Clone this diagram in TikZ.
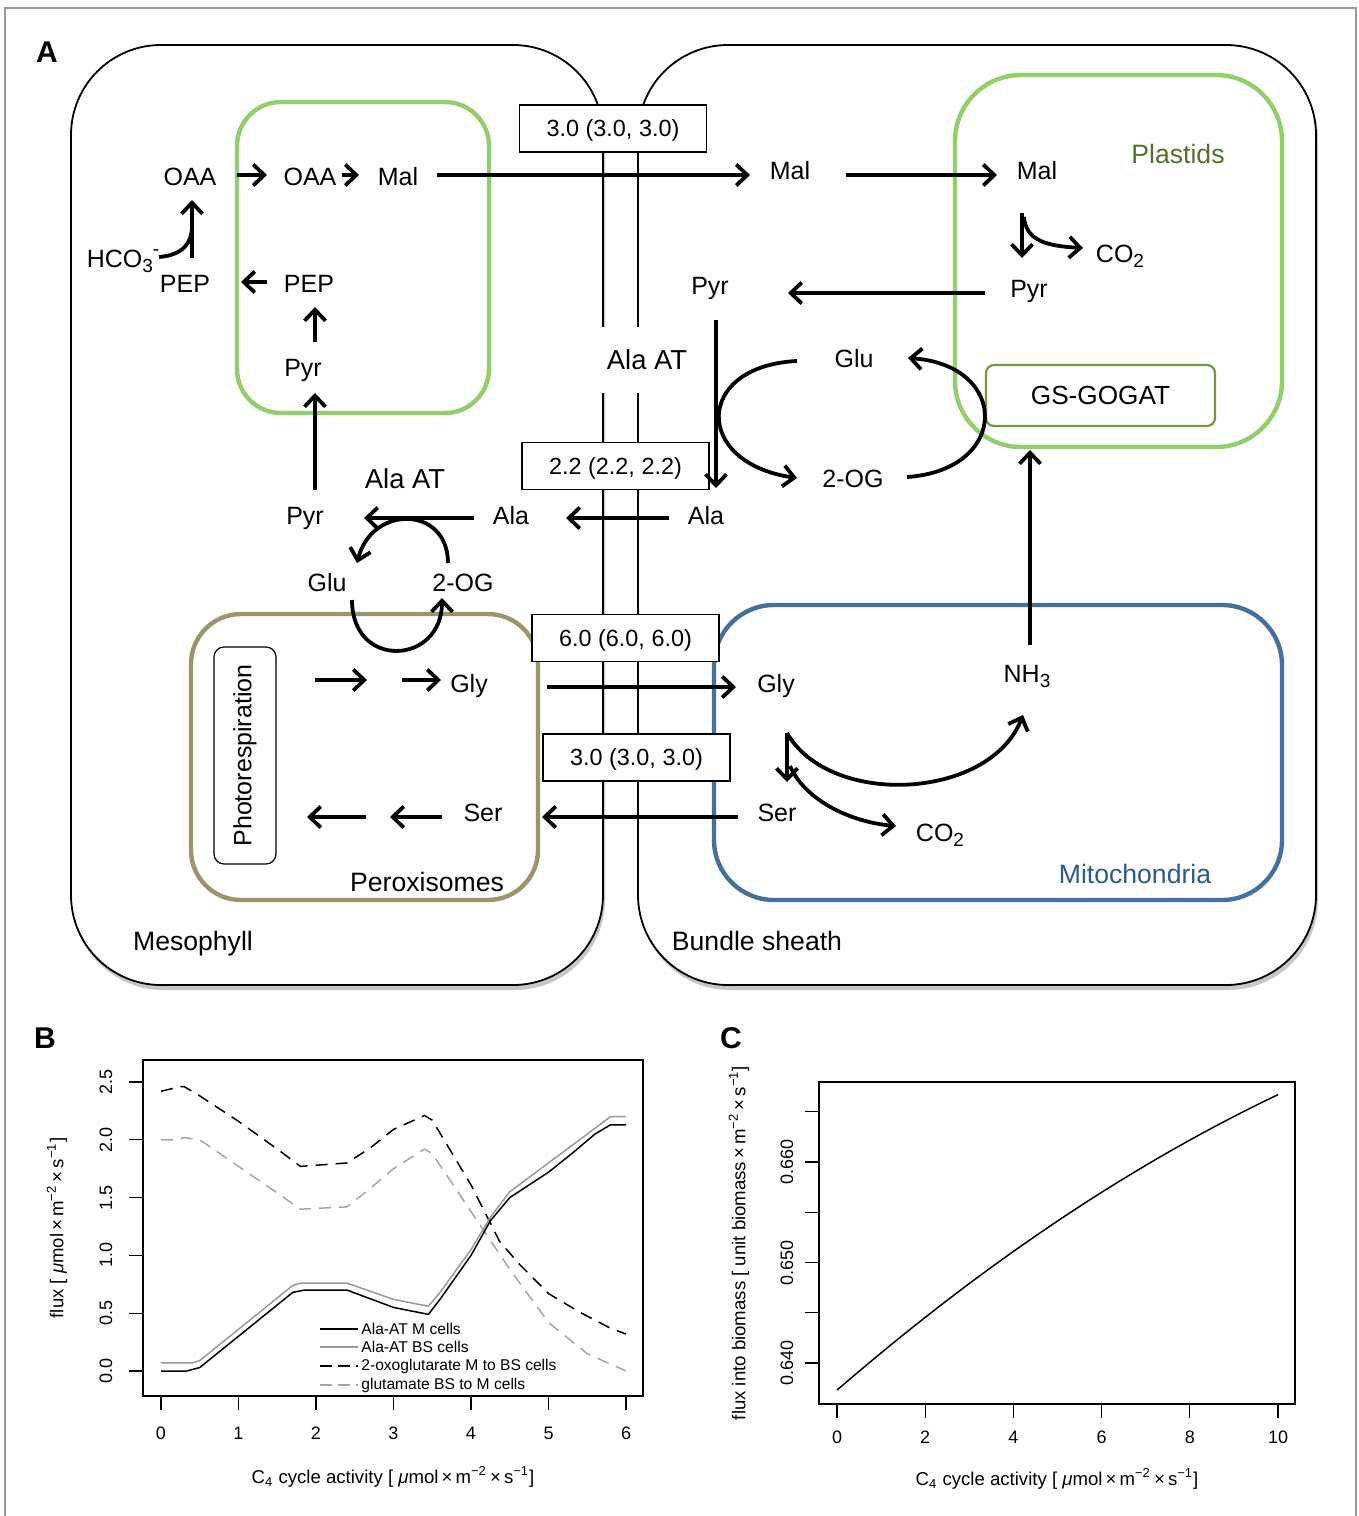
\documentclass[tikz,border=0pt]{standalone}
\usepackage{fontspec}
\setmainfont{Liberation Sans}
\usetikzlibrary{arrows.meta,calc,shadows}
\definecolor{plastid}{RGB}{146,206,106}
\definecolor{gsgogat}{RGB}{119,150,64}
\definecolor{plasttext}{RGB}{84,112,46}
\definecolor{perox}{RGB}{156,149,108}
\definecolor{mito}{RGB}{69,112,156}
\definecolor{mitotext}{RGB}{45,90,140}
\newcommand\mysub[1]{\raisebox{-0.45ex}{\fontsize{9.5}{9.5}\selectfont #1}}
\newcommand\mysup[1]{\raisebox{0.9ex}{\fontsize{9.5}{9.5}\selectfont #1}}
\begin{document}
\begin{tikzpicture}[x=0.5pt,y=-0.5pt,
  cellbox/.style={draw=black, line width=0.9pt, rounded corners=45pt, fill=white,
    drop shadow={shadow xshift=1pt, shadow yshift=-2.5pt, fill=black, opacity=0.22}},
  orgbox/.style={line width=2.2pt},
  met/.style={inner sep=0pt, font=\fontsize{12.5}{15}\selectfont, text height=9pt, text depth=0pt},
  comp/.style={inner sep=0pt, font=\fontsize{13.3}{16}\selectfont, text height=9.5pt, text depth=0pt},
  enz/.style={inner sep=0pt, font=\fontsize{13.7}{16}\selectfont, text height=9.8pt, text depth=0pt},
  fluxbox/.style={draw=black, line width=0.6pt, fill=white, inner sep=0pt, font=\fontsize{11.7}{14}\selectfont, text height=8.4pt, text depth=0pt, minimum width=93.5pt, minimum height=23.5pt},
  arr/.style={line width=1.9pt, -{Straight Barb[length=5.5pt,width=10.5pt]}},
  plainline/.style={line width=1.9pt},
  panel/.style={font=\fontsize{15}{15}\selectfont\bfseries, inner sep=0pt},
  tick/.style={font=\fontsize{9}{10}\selectfont, inner sep=0pt},
  axlab/.style={font=\fontsize{9.3}{11}\selectfont, inner sep=0pt},
  leg/.style={font=\fontsize{7.8}{9}\selectfont, inner sep=0pt, anchor=west},
  curve/.style={line width=0.75pt, line join=round},
  axline/.style={line width=0.6pt},
]
\useasboundingbox (0,0) rectangle (1359,1516);
% outer frame
\draw[black!40, line width=0.8pt] (5,1516) -- (5,8) -- (1356,8) -- (1356,1516);

% ===== Panel A =====
\node[panel] (lA) at (47,52) {A};
\draw[cellbox] (71,45) rectangle (603,985);
\draw[cellbox] (638,45) rectangle (1316,985);

\draw[orgbox, draw=plastid, rounded corners=22pt] (237,102) rectangle (489,413);
\draw[orgbox, draw=plastid, rounded corners=33pt] (955,75) rectangle (1282,447);
\draw[orgbox, draw=perox, rounded corners=25pt] (191,614) rectangle (538,900);
\draw[orgbox, draw=mito, rounded corners=30pt] (714,605) rectangle (1282,900);

\node[draw=gsgogat, line width=1.1pt, rounded corners=4pt, fill=white, minimum width=114.5pt, minimum height=30.5pt, inner sep=0pt, font=\fontsize{13.1}{15}\selectfont] (gs) at (1100.5,395.5) {GS-GOGAT};
\node[draw, line width=0.6pt, rounded corners=5pt, rotate=90, minimum width=108.5pt, minimum height=31pt, inner sep=0pt, font=\fontsize{12.5}{14}\selectfont] (photo) at (245,755.5) {Photorespiration};

% compartment labels
\node[comp, text=plasttext] (plastids) at (1178,154) {Plastids};
\node[comp] (peroxl) at (427,882) {Peroxisomes};
\node[comp, text=mitotext] (mitol) at (1135,874) {Mitochondria};
\node[comp] (mesol) at (193,941) {Mesophyll};
\node[comp] (bsl) at (757,941) {Bundle sheath};

% flux boxes
\node[fluxbox] (f1) at (613,128.5) {3.0 (3.0, 3.0)};
\node[fluxbox] (f2) at (615.5,466) {2.2 (2.2, 2.2)};
\node[fluxbox] (f3) at (625.5,638) {6.0 (6.0, 6.0)};
\node[fluxbox] (f4) at (636.5,757.5) {3.0 (3.0, 3.0)};

% enzymes
\node[enz] (alaat1) at (405,479) {Ala AT};
\node[enz, fill=white, inner xsep=3pt, minimum height=33pt] (alaat2) at (647,360) {Ala AT};

% metabolites (mesophyll)
\node[met] (oaa1) at (190,176) {OAA};
\node[met] (oaa2) at (310,176) {OAA};
\node[met] (mal1) at (398,176) {Mal};
\node[met] (hco3) at (123,258) {HCO\mysub{3}\mysup{-}};
\node[met] (pep1) at (185,283) {PEP};
\node[met] (pep2) at (309,283) {PEP};
\node[met] (pyr1) at (303,367) {Pyr};
\node[met] (pyr1b) at (305,515) {Pyr};
\node[met] (ala1) at (511,515) {Ala};
\node[met] (glu1) at (327,582) {Glu};
\node[met] (og1) at (463,582) {2-OG};
\node[met] (gly1) at (469,683) {Gly};
\node[met] (ser1) at (483,812) {Ser};
% metabolites (bundle sheath)
\node[met] (mal2) at (790,170) {Mal};
\node[met] (mal3) at (1037,170) {Mal};
\node[met] (co2a) at (1120,253) {CO\mysub{2}};
\node[met] (pyr2) at (710,285) {Pyr};
\node[met] (pyr3) at (1029,288) {Pyr};
\node[met] (glu2) at (854,358) {Glu};
\node[met] (og2) at (853,478) {2-OG};
\node[met] (ala2) at (706,515) {Ala};
\node[met] (gly2) at (776,683) {Gly};
\node[met] (ser2) at (777,812) {Ser};
\node[met] (nh3) at (1027,673) {NH\mysub{3}};
\node[met] (co2b) at (940,832) {CO\mysub{2}};

% ---- arrows ----
\draw[arr] ($(oaa1)+(47,-1)$) -- ($(oaa2)+(-43,-1)$);
\draw[arr] ($(oaa2)+(32,-1)$) -- ($(mal1)+(-39,-1)$);
\draw[arr] ($(mal1)+(39,-1)$) -- ($(mal2)+(-40,5)$);
\draw[arr] ($(mal2)+(56,5)$) -- ($(mal3)+(-40,5)$);
\draw[arr] ($(mal3)+(-15,43)$) -- ($(pyr3)+(-7,-30)$);
\draw[arr] ($(mal3)+(-13,47)$) .. controls ($(mal3)+(-11,70)$) and ($(mal3)+(8,76)$) .. ($(co2a)+(-37,-5)$);
\draw[arr] ($(pyr3)+(-44,5)$) -- ($(pyr2)+(78,8)$);
\draw[arr] ($(pyr2)+(6,35)$) -- ($(ala2)+(10,-27)$);
\draw[arr] ($(glu2)+(-57,3)$) .. controls ($(glu2)+(-160,8)$) and ($(og2)+(-160,-15)$) .. ($(og2)+(-56,0)$);
\draw[arr] ($(og2)+(54,-1)$) .. controls ($(og2)+(157,-8)$) and ($(glu2)+(156,7)$) .. ($(glu2)+(54,0)$);
\draw[arr] ($(ala2)+(-37,3)$) -- ($(ala1)+(55,3)$);
\draw[arr] ($(ala1)+(-37,3)$) -- ($(pyr1b)+(59,3)$);
\draw[arr] ($(og1)+(-15,-19)$) .. controls ($(og1)+(-15,-76)$) and ($(glu1)+(45,-78)$) .. ($(glu1)+(30,-19)$);
\draw[arr] ($(glu1)+(25,18)$) .. controls ($(glu1)+(25,88)$) and ($(og1)+(-21,83)$) .. ($(og1)+(-21,16)$);
\draw[arr] ($(pyr1b)+(10,-25)$) -- ($(pyr1)+(12,26)$);
\draw[arr] ($(pyr1)+(12,-25)$) -- ($(pep2)+(6,24)$);
\draw[arr] ($(pep2)+(-42,-1)$) -- ($(pep1)+(56,-1)$);
\draw[arr] ($(pep1)+(7,-25)$) -- ($(oaa1)+(2,24)$);
\draw[plainline] ($(hco3)+(36,-1)$) .. controls ($(hco3)+(60,-3)$) and ($(pep1)+(7,-40)$) .. ($(pep1)+(7,-57)$);
% peroxisome
\draw[arr] ($(photo)+(70,-75.5)$) -- ($(gly1)+(-102,-3)$);
\draw[arr] ($(gly1)+(-67,-3)$) -- ($(gly1)+(-28,-3)$);
\draw[arr] ($(ser1)+(-41,5)$) -- ($(ser1)+(-93,5)$);
\draw[arr] ($(ser1)+(-117,5)$) -- ($(photo)+(62,61.5)$);
\draw[arr] ($(gly1)+(78,4)$) -- ($(gly2)+(-40,4)$);
\draw[arr] ($(ser2)+(-39,5)$) -- ($(ser1)+(59,5)$);
% mitochondria
\draw[arr] ($(gly2)+(11,50)$) .. controls ($(gly2)+(54,125)$) and ($(nh3)+(-37,127)$) .. ($(nh3)+(-4,42)$);
\draw[arr] ($(gly2)+(11,50)$) -- ($(ser2)+(10,-30)$);
\draw[arr] ($(gly2)+(14,83)$) .. controls ($(gly2)+(29,117)$) and ($(co2b)+(-90,-10)$) .. ($(co2b)+(-44,-6)$);
\draw[arr] ($(nh3)+(3,-28)$) -- ($(gs)+(-70.5,54.5)$);

% ===== Panel B =====
\node[panel] (lB) at (45,1038) {B};
\draw[axline] (143,1060) rectangle (643,1396);
\foreach \k in {0,...,6} {
  \draw[axline] ({161+77.5*\k},1396) -- ({161+77.5*\k},1410);
  \node[tick] (bx\k) at ({161+77.5*\k},1433) {\k};
}
\foreach \k/\lab in {0/0.0,1/0.5,2/1.0,3/1.5,4/2.0,5/2.5} {
  \draw[axline] (129,{1371-57.8*\k}) -- (143,{1371-57.8*\k});
  \node[tick, rotate=90] (by\k) at (106,{1371-57.8*\k}) {\lab};
}
\node[axlab] (bxlab) at (393,1477) {C\textsubscript{4} cycle activity [ \textit{μ}mol\,×\,m\textsuperscript{−2}\,×\,s\textsuperscript{−1}]};
\node[axlab, rotate=90] (bylab) at (57,1228) {flux [ \textit{μ}mol\,×\,m\textsuperscript{−2}\,×\,s\textsuperscript{−1}]};
\begin{scope}[shift={(161,1371)}, x=38.75pt, y=57.8pt]
\draw[curve, black!35, dash pattern=on 6pt off 4pt] plot coordinates {(0,2.0) (0.2,2.0) (0.3,2.02) (0.5,2.0) (1.0,1.77) (1.5,1.54) (1.8,1.4) (2.4,1.42) (2.7,1.58) (3.0,1.75) (3.4,1.92) (3.5,1.88) (4.0,1.38) (4.5,0.88) (5.0,0.42) (5.5,0.15) (6.0,0.0)};
\draw[curve, black, dash pattern=on 6pt off 4pt] plot coordinates {(0,2.42) (0.25,2.46) (0.3,2.46) (0.5,2.38) (1.0,2.16) (1.5,1.92) (1.8,1.77) (2.4,1.8) (2.7,1.93) (3.0,2.09) (3.4,2.21) (3.5,2.17) (4.0,1.61) (4.37,1.12) (4.63,0.92) (5.0,0.67) (5.4,0.51) (5.8,0.37) (6.0,0.32)};
\draw[curve, black!40] plot coordinates {(0,0.07) (0.4,0.07) (0.5,0.09) (1.7,0.74) (1.8,0.76) (2.4,0.76) (3.0,0.62) (3.45,0.56) (3.6,0.68) (4.0,1.05) (4.25,1.33) (4.5,1.55) (5.0,1.8) (5.3,1.95) (5.6,2.1) (5.8,2.2) (6.0,2.2)};
\draw[curve, black] plot coordinates {(0,0) (0.33,0) (0.5,0.03) (1.7,0.68) (1.85,0.7) (2.4,0.7) (3.0,0.55) (3.45,0.49) (3.6,0.62) (4.0,1.0) (4.25,1.3) (4.5,1.5) (5.0,1.72) (5.3,1.88) (5.6,2.05) (5.8,2.13) (6.0,2.13)};
\end{scope}
% legend
\draw[curve, black] (320,1329) -- (358,1329);
\node[leg] (l1) at (361,1329) {Ala-AT M cells};
\draw[curve, black!40] (320,1347) -- (358,1347);
\node[leg] (l2) at (361,1347) {Ala-AT BS cells};
\draw[curve, black, dash pattern=on 6pt off 3pt] (320,1366) -- (358,1366);
\node[leg] (l3) at (361,1366) {2-oxoglutarate M to BS cells};
\draw[curve, black!35, dash pattern=on 6pt off 3pt] (320,1385) -- (358,1385);
\node[leg] (l4) at (361,1385) {glutamate BS to M cells};

% ===== Panel C =====
\node[panel] (lC) at (731,1038) {C};
\draw[axline] (819,1082) rectangle (1295,1404);
\foreach \k in {0,2,...,10} {
  \draw[axline] ({837+44.1*\k},1404) -- ({837+44.1*\k},1418);
  \node[tick] (cx\k) at ({837+44.1*\k},1437) {\k};
}
\foreach \k in {0,...,5} {
  \draw[axline] (805,{1363-50.25*\k}) -- (819,{1363-50.25*\k});
}
\foreach \k/\lab in {0/0.640,2/0.650,4/0.660} {
  \node[tick, rotate=90] (cy\k) at (787,{1363-50.25*\k}) {\lab};
}
\node[axlab] (cxlab) at (1057,1479) {C\textsubscript{4} cycle activity [ \textit{μ}mol\,×\,m\textsuperscript{−2}\,×\,s\textsuperscript{−1}]};
\node[axlab, rotate=90] (cylab) at (739,1243) {flux into biomass [ unit biomass\,×\,m\textsuperscript{−2}\,×\,s\textsuperscript{−1}]};
\begin{scope}[shift={(837,1363)}, x=22.05pt, y=50.25pt]
\draw[curve] plot[domain=0:10, samples=60, smooth] (\x,{-0.27+0.379*\x-0.0085*\x*\x});
\end{scope}
\end{tikzpicture}
\end{document}
